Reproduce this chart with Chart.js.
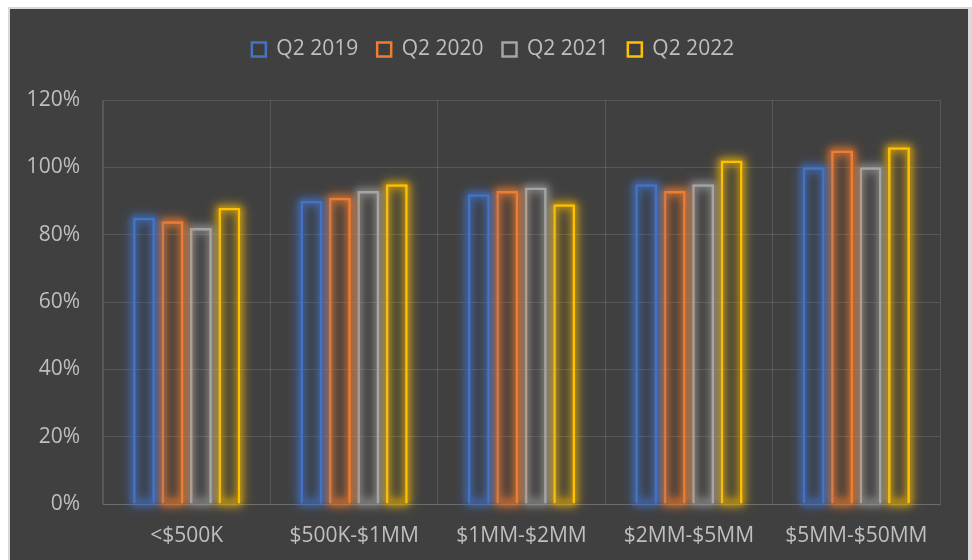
<!DOCTYPE html>
<html><head><meta charset="utf-8">
<script src="https://cdn.jsdelivr.net/npm/chart.js@4"></script>
<style>
html,body{margin:0;padding:0;background:#fff;width:972px;height:560px;overflow:hidden}
#frame{position:absolute;left:8px;top:7px;width:964px;height:553px;background:#d9d9d9}
#wrap{position:absolute;left:10px;top:9px;width:958px;height:551px;background:#404040}
canvas{display:block}
</style></head><body>
<div id="frame"></div><div id="wrap"><canvas id="c" width="958" height="551"></canvas></div>
<script>
const categories = ['<$500K', '$500K-$1MM', '$1MM-$2MM', '$2MM-$5MM', '$5MM-$50MM'];
const seriesNames = ['Q2 2019', 'Q2 2020', 'Q2 2021', 'Q2 2022'];
const q2019 = [85, 90, 92, 95, 100];
const q2020 = [84, 91, 93, 93, 105];
const q2021 = [82, 93, 94, 95, 100];
const q2022 = [88, 95, 89, 102, 106];
const yTicks = [0, 20, 40, 60, 80, 100, 120];

const colors = ['#4472C4', '#ED7D31', '#A5A5A5', '#FFC000'];
const glowColors = ['rgba(68,114,196,0.85)', 'rgba(237,125,49,0.85)', 'rgba(165,165,165,0.7)', 'rgba(255,192,0,0.7)'];
const textColor = '#bfbfbf';
const gridColor = 'rgba(255,255,255,0.13)';
const font = {family: 'Open Sans', size: 21};

const seriesValues = [q2019, q2020, q2021, q2022];

const glowPlugin = {
  id: 'glow',
  beforeLayout(chart) {
    const lg = chart.legend;
    if (lg && !lg._patched) {
      const f = lg.fit;
      lg.fit = function () { f.call(this); this.height = 80; };
      lg._patched = true;
    }
  },
  afterLayout(chart) {
    const lg = chart.legend;
    if (lg) { lg.left += 18; lg.right += 18; }
  },
  beforeDatasetDraw(chart, args) {
    const ctx = chart.ctx;
    const col = glowColors[args.index];
    const off = 5000;
    ctx.save();
    ctx.shadowColor = col;
    ctx.shadowOffsetX = off;
    ctx.strokeStyle = '#000';
    args.meta.data.forEach(el => {
      const p = el.getProps(['x', 'y', 'base', 'width'], true);
      const l = p.x - p.width / 2, t = Math.min(p.y, p.base), h = Math.abs(p.base - p.y);
      ctx.shadowBlur = 12; ctx.lineWidth = 6;
      ctx.strokeRect(l + 1 - off, t + 1, p.width - 2, h - 2);
      ctx.shadowBlur = 6; ctx.lineWidth = 4;
      ctx.strokeRect(l + 1 - off, t + 1, p.width - 2, h - 2);
    });
    ctx.restore();
  }
};

new Chart(document.getElementById('c'), {
  type: 'bar',
  data: {
    labels: categories,
    datasets: seriesNames.map((name, i) => ({
      label: name,
      data: seriesValues[i],
      backgroundColor: 'rgba(0,0,0,0.04)',
      borderColor: colors[i],
      borderWidth: 2.5,
      categoryPercentage: 0.68,
      barPercentage: 0.77
    }))
  },
  options: {
    responsive: false,
    animation: false,
    layout: {padding: {left: 0, right: 28, top: 11, bottom: 0}},
    plugins: {
      legend: {
        position: 'top',
        labels: {color: textColor, font: font, boxWidth: 14, boxHeight: 14, padding: 19}
      },
      tooltip: {enabled: false}
    },
    scales: {
      x: {
        grid: {color: gridColor, drawTicks: false, offset: true},
        border: {color: gridColor},
        ticks: {color: textColor, font: font, padding: 19},
        afterFit(s) { s.height = 56; }
      },
      y: {
        min: 0, max: 120,
        grid: {color: gridColor, drawTicks: false},
        border: {color: gridColor},
        ticks: {color: textColor, font: font, padding: 23, callback: v => v + '%'},
        afterBuildTicks(s) { s.ticks = yTicks.map(v => ({value: v})); },
        afterFit(s) { s.width = 93; }
      }
    }
  },
  plugins: [glowPlugin]
});
</script>
</body></html>
